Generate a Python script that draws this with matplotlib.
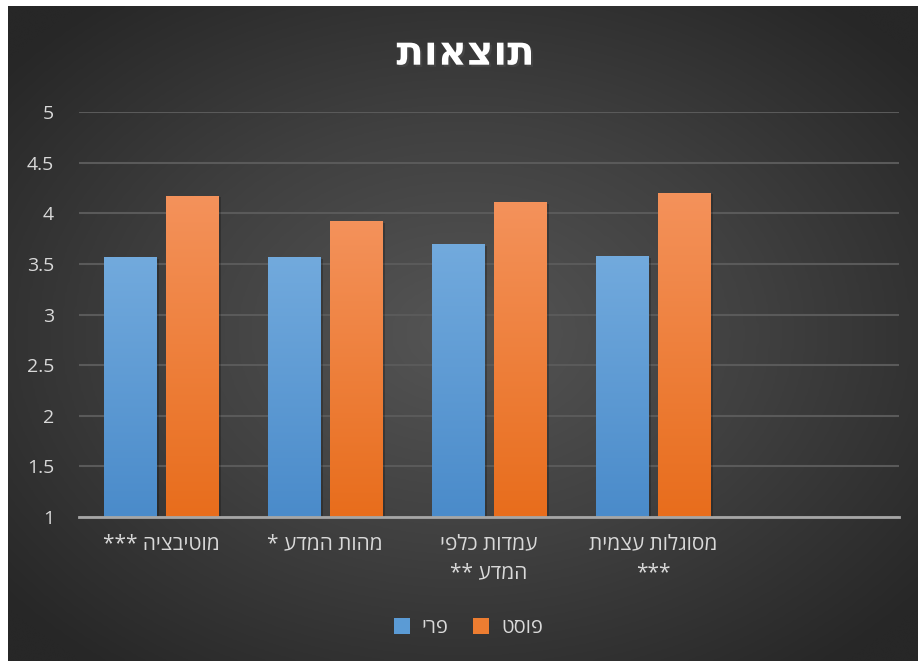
import numpy as np
import matplotlib.pyplot as plt
from matplotlib import patheffects as pe
from matplotlib.patches import Patch
from matplotlib.colors import LinearSegmentedColormap

categories = ['מוטיבציה ***', 'מהות המדע *', 'עמדות כלפי\nהמדע **', 'מסוגלות עצמית\n***', '']
pre = [3.56, 3.56, 3.69, 3.57]
post = [4.17, 3.92, 4.11, 4.20]
series = ['פרי', 'פוסט']
yticks = [1, 1.5, 2, 2.5, 3, 3.5, 4, 4.5, 5]
title = 'תוצאות'

plt.rcParams['font.family'] = ['Open Sans', 'DejaVu Sans']


def rtl(s):
    # matplotlib has no bidi, flip each line by hand
    return '\n'.join(line[::-1] for line in s.split('\n'))


fig = plt.figure(figsize=(9.18, 6.61), dpi=100, facecolor='white')

# dark panel with a soft radial light in the middle
bg = fig.add_axes([8/918, 0, 1-8/918, 1-6/661])
bg.axis('off')
yy, xx = np.mgrid[0:1:300j, 0:1:400j]
r = np.sqrt(((xx-0.5)/0.65)**2 + ((yy-0.5)/0.65)**2)
bg_cmap = LinearSegmentedColormap.from_list('bg', ['#555555', '#404040', '#272727'])
bg.imshow(np.clip(r, 0, 1), cmap=bg_cmap, vmin=0, vmax=1, aspect='auto',
          extent=(0, 1, 0, 1), interpolation='bicubic')
bg.set_xlim(0, 1)
bg.set_ylim(0, 1)

ax = fig.add_axes([79/918, 1-517/661, 820/918, (517-112)/661])
ax.set_facecolor('none')

x = np.arange(len(categories))
w = 0.32
off = 0.19
blue_cmap = LinearSegmentedColormap.from_list('b', ['#4a8bca', '#72aadd'])
orange_cmap = LinearSegmentedColormap.from_list('o', ['#e86d1c', '#f4925b'])

shadow = [pe.SimplePatchShadow(offset=(2, -1), shadow_rgbFace='black', alpha=0.22), pe.Normal()]
b1 = ax.bar(x[:4] - off, pre, w, color='#5b9bd5', zorder=3, path_effects=shadow)
b2 = ax.bar(x[:4] + off, post, w, color='#ed7d31', zorder=3, path_effects=shadow)

grad = np.linspace(0, 1, 256).reshape(-1, 1)
for bars, cm in [(b1, blue_cmap), (b2, orange_cmap)]:
    for b in bars:
        x0 = b.get_x()
        ax.imshow(grad, cmap=cm, aspect='auto', origin='lower',
                  extent=(x0, x0 + b.get_width(), 1, b.get_height()), zorder=4)

ax.set_xlim(-0.5, len(categories) - 0.5)
ax.set_ylim(1, 5)
ax.set_yticks(yticks)
ax.set_yticklabels([f'{t:g}' for t in yticks])
ax.set_xticks(x)
ax.set_xticklabels([rtl(c) for c in categories], linespacing=1.45)
ax.grid(axis='y', color='#5a5a5a', linewidth=1.5, zorder=0)
ax.set_axisbelow(True)
for s in ['top', 'right', 'left']:
    ax.spines[s].set_visible(False)
ax.spines['bottom'].set_color('#a6a6a6')
ax.spines['bottom'].set_linewidth(2)
ax.spines['bottom'].set_zorder(5)
ax.tick_params(axis='y', length=0, colors='#d9d9d9', labelsize=14, pad=18)
ax.tick_params(axis='x', length=0, colors='#d9d9d9', labelsize=15, pad=12)

fig.text(0.507, 0.918, rtl(title), ha='center', va='center', fontsize=29,
         fontweight='bold', color='white',
         path_effects=[pe.withSimplePatchShadow(offset=(1.5, -1.5), alpha=0.6)])

handles = [Patch(facecolor='#5b9bd5'), Patch(facecolor='#ed7d31')]
leg = fig.legend(handles, [rtl(s) for s in series], loc='center', ncol=2,
                 bbox_to_anchor=(0.51, 1-628/661), frameon=False, fontsize=14.5,
                 handlelength=0.8, handleheight=0.8, handletextpad=0.6, columnspacing=1.2)
for t in leg.get_texts():
    t.set_color('#d9d9d9')

fig.savefig('out.png', dpi=100, facecolor='white')
